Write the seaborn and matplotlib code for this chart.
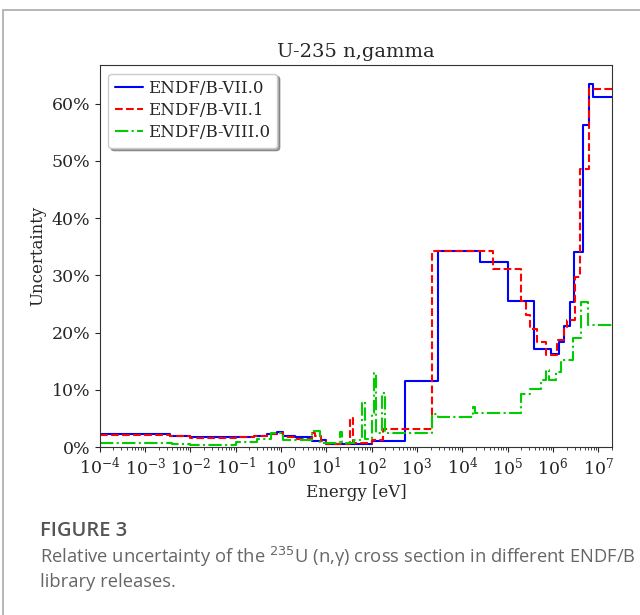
import numpy as np
import pandas as pd
import matplotlib
matplotlib.use("Agg")
import matplotlib.pyplot as plt
import matplotlib.ticker as mtick
from matplotlib.patches import Rectangle
import seaborn as sns

# Step data: energy where each group starts [eV], relative uncertainty [%]
e_vii0 = [1e-4, 3.5e-3, 1e-2, 5e-2, 1e-1, 2.5e-1, 5e-1, 8e-1, 1.1, 2.0, 4.8, 7.8, 10,
          100, 540, 2960, 2.5e4, 1.0e5, 3.8e5, 8.9e5, 1.36e6, 1.8e6, 2.4e6, 2.9e6,
          4.7e6, 6.2e6, 7.8e6, 2e7]
u_vii0 = [2.3, 2.0, 1.7, 1.7, 1.8, 2.0, 2.3, 2.6, 1.9, 1.7, 1.0, 1.3, 0.6,
          1.1, 11.6, 34.2, 32.3, 25.5, 17.2, 16.3, 18.4, 21.2, 25.4, 34.1,
          56.2, 63.5, 61.1, 61.1]

e_vii1 = [1e-4, 3.5e-3, 1e-2, 5e-2, 1e-1, 2.5e-1, 5e-1, 8e-1, 1.1, 2.0, 4.8, 5.5, 7.5, 10,
          34, 38, 100, 180, 2200, 4.8e4, 1.95e5, 2.6e5, 3.2e5, 4.4e5, 7.2e5,
          1.26e6, 1.8e6, 2.1e6, 3.1e6, 4.0e6, 6.2e6, 2e7]
u_vii1 = [2.2, 1.9, 1.6, 1.6, 1.7, 2.0, 2.3, 2.5, 1.8, 1.5, 2.5, 2.0, 1.0, 0.5,
          5.0, 0.7, 1.2, 3.1, 34.2, 31.1, 25.6, 23.0, 20.6, 18.4, 16.0,
          18.7, 21.0, 22.2, 29.7, 48.6, 62.6, 62.6]

e_viii0 = [1e-4, 4e-3, 1e-2, 5e-2, 1e-1, 3e-1, 6e-1, 1.1, 4.8, 7.3, 20, 22, 40, 60, 70,
           100, 110, 125, 170, 200, 2200, 2960, 1.7e4, 1.9e4, 1.95e5, 3.1e5, 5.6e5,
           7.2e5, 8.2e5, 1.2e6, 1.5e6, 2.8e6, 4.1e6, 6.0e6, 2e7]
u_viii0 = [0.7, 0.5, 0.3, 0.4, 0.9, 1.5, 2.4, 1.2, 2.8, 0.7, 2.6, 0.8, 1.2, 7.9, 1.5,
           5.9, 13.0, 2.4, 9.4, 2.4, 5.8, 5.3, 7.0, 6.0, 9.2, 10.1, 11.8,
           13.4, 11.8, 13.1, 15.2, 19.0, 25.4, 21.4, 21.4]

series_names = ["ENDF/B-VII.0", "ENDF/B-VII.1", "ENDF/B-VIII.0"]
x_ticks = [1e-4, 1e-3, 1e-2, 1e-1, 1e0, 1e1, 1e2, 1e3, 1e4, 1e5, 1e6, 1e7]
y_ticks = [0, 10, 20, 30, 40, 50, 60]

sns.set_style("ticks")
plt.rcParams["font.family"] = ["DejaVu Serif"]

fig = plt.figure(figsize=(6.4, 6.15), dpi=100)
ax = fig.add_axes([0.156, 0.273, 0.80, 0.621])

styles = [("blue", "-"), ("red", "--"), ("#00cc00", "-.")]
data = [(e_vii0, u_vii0), (e_vii1, u_vii1), (e_viii0, u_viii0)]
for name, (e, u), (c, ls) in zip(series_names, data, styles):
    df = pd.DataFrame({"E": e, "U": u})
    sns.lineplot(data=df, x="E", y="U", ax=ax, color=c, linestyle=ls,
                 drawstyle="steps-post", linewidth=1.5, label=name,
                 estimator=None, sort=False)

ax.set_xscale("log")
ax.set_xlim(1e-4, 2e7)
ax.set_ylim(0, 66.7)
ax.set_xticks(x_ticks)
ax.xaxis.set_minor_locator(mtick.LogLocator(base=10, subs=np.arange(2, 10), numticks=100))
ax.xaxis.set_minor_formatter(mtick.NullFormatter())
ax.set_yticks(y_ticks)
ax.yaxis.set_major_formatter(mtick.FuncFormatter(lambda v, p: f"{v:.0f}%"))
ax.tick_params(labelsize=12.5)
ax.tick_params(which="minor", length=2.5)
ax.set_title("U-235 n,gamma", fontsize=14)
ax.set_xlabel("Energy [eV]", fontsize=12)
ax.set_ylabel("Uncertainty", fontsize=12)
for s in ax.spines.values():
    s.set_color("#333333")

leg = ax.legend(loc="upper left", fontsize=12, fancybox=True, shadow=True,
                frameon=True, handlelength=1.7, handletextpad=0.3,
                borderpad=0.4, labelspacing=0.3)

# card border and caption
fig.patches.append(Rectangle((3 / 640, -0.1), 1.2, 1 - 10 / 615 + 0.1,
                             transform=fig.transFigure, fill=False,
                             edgecolor="#aaaaaa", linewidth=1.2))
fig.text(40 / 640, 1 - 531 / 615, "FIGURE 3", fontsize=14.5, color="#555555",
         family="Open Sans", fontweight="semibold", va="center")
fig.text(40 / 640, 1 - 557 / 615,
         r"Relative uncertainty of the $^{235}$U (n,γ) cross section in different ENDF/B",
         fontsize=13.2, color="#666666", family="Open Sans", va="center")
fig.text(40 / 640, 1 - 582 / 615, "library releases.", fontsize=13.2, color="#666666",
         family="Open Sans", va="center")

fig.savefig("out.png", dpi=100)
